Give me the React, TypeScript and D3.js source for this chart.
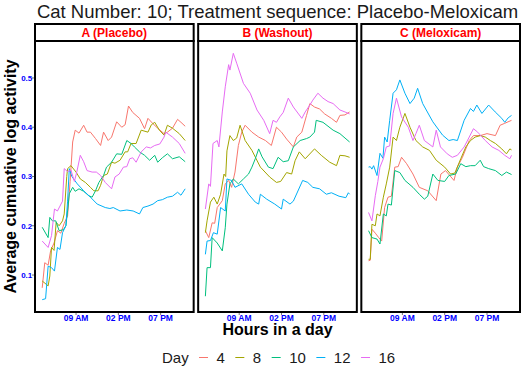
import React from "react";
import * as d3 from "d3";

type Pt = [number, number];

const titleText = "Cat Number: 10; Treatment sequence: Placebo-Meloxicam";
const panelTitles = ["A (Placebo)", "B (Washout)", "C (Meloxicam)"];
const days = ["4", "8", "10", "12", "16"];
const dayColors = ["#F8766D", "#A3A500", "#00BF7D", "#00B0F6", "#E76BF3"];
const yTicks = [0.1, 0.2, 0.3, 0.4, 0.5];
const xTicks = [9, 14, 19];
const xTickLabels = ["09 AM", "02 PM", "07 PM"];

// panel A (placebo) — [hour of day, value]
const aDay4: Pt[] = [[5.0,.074],[5.3,.125],[5.7,.12],[6.0,.15],[6.4,.165],[6.8,.19],[7.2,.185],[7.6,.205],[8.0,.22],[8.3,.29],[8.6,.37],[8.9,.394],[9.35,.388],[9.9,.404],[10.3,.39],[10.7,.39],[11.3,.377],[11.9,.363],[12.25,.39],[12.8,.373],[13.2,.38],[13.8,.411],[14.4,.40],[14.8,.405],[15.2,.443],[15.7,.43],[16.5,.418],[17.1,.397],[17.5,.418],[18.1,.407],[18.65,.398],[19.4,.387],[19.8,.39],[20.4,.398],[21.0,.416],[21.4,.41],[21.9,.402]];
const aDay8: Pt[] = [[5.0,.088],[5.7,.078],[5.9,.098],[6.1,.156],[6.4,.15],[6.65,.207],[7.0,.2],[7.4,.21],[7.6,.224],[7.9,.30],[8.0,.316],[8.4,.322],[9.0,.309],[9.5,.295],[10.1,.288],[10.7,.278],[11.1,.271],[11.6,.271],[11.9,.282],[12.25,.302],[12.7,.305],[13.2,.329],[13.6,.327],[14.2,.333],[14.8,.35],[15.1,.35],[15.5,.367],[16.1,.367],[16.7,.394],[17.5,.39],[17.9,.405],[18.3,.41],[18.85,.394],[19.4,.384],[19.8,.404],[20.4,.398],[21.2,.387],[21.9,.373]];
const aDay10: Pt[] = [[5.0,.197],[5.7,.176],[5.9,.217],[6.2,.21],[6.6,.21],[7.0,.19],[7.5,.192],[7.8,.2],[8.0,.23],[8.2,.265],[8.6,.278],[8.9,.27],[9.35,.275],[9.9,.27],[10.5,.261],[10.9,.258],[11.3,.271],[11.7,.288],[12.25,.302],[12.6,.319],[13.2,.329],[13.8,.346],[14.4,.345],[15.0,.373],[15.5,.367],[15.9,.36],[16.5,.35],[17.1,.343],[17.7,.333],[18.3,.343],[18.65,.329],[19.2,.338],[19.8,.346],[20.4,.336],[21.2,.34],[21.9,.33]];
const aDay12: Pt[] = [[5.0,.05],[5.4,.052],[5.7,.118],[6.1,.115],[6.45,.108],[6.8,.156],[7.1,.152],[7.4,.186],[7.8,.2],[8.0,.25],[8.2,.316],[8.5,.3],[9.15,.285],[9.9,.271],[10.7,.258],[11.5,.244],[12.45,.237],[13.0,.235],[13.4,.237],[14.2,.23],[15.0,.232],[15.75,.23],[16.5,.224],[16.9,.237],[17.5,.24],[18.1,.244],[18.65,.251],[19.2,.253],[19.8,.258],[20.4,.26],[21.0,.268],[21.4,.262],[21.9,.275]];
const aDay16: Pt[] = [[5.0,.169],[5.7,.156],[6.1,.18],[6.45,.234],[6.8,.23],[7.1,.24],[7.4,.25],[7.6,.316],[8.0,.31],[8.4,.313],[8.8,.29],[9.1,.31],[9.5,.343],[9.9,.33],[10.3,.312],[10.9,.309],[11.4,.309],[11.9,.302],[12.45,.288],[13.2,.275],[13.6,.299],[14.1,.305],[14.6,.319],[15.0,.32],[15.35,.336],[15.7,.338],[16.1,.329],[16.7,.35],[17.3,.36],[17.8,.358],[18.3,.363],[18.9,.366],[19.4,.38],[19.6,.39],[20.4,.38],[21.2,.367],[21.9,.347]];

// panel B (washout)
const bDay4: Pt[] = [[5.0,.19],[5.4,.176],[5.8,.206],[6.1,.205],[6.4,.237],[7.0,.251],[7.35,.285],[7.75,.292],[8.1,.278],[8.5,.309],[8.9,.363],[9.3,.39],[9.7,.404],[10.5,.39],[11.3,.38],[12.1,.373],[12.8,.363],[13.4,.40],[14.0,.39],[14.6,.376],[15.4,.36],[15.8,.38],[16.4,.39],[16.96,.424],[17.35,.448],[17.9,.441],[18.5,.437],[19.1,.427],[19.9,.418],[20.5,.41],[20.9,.424],[21.5,.425],[22.05,.431]];
const bDay8: Pt[] = [[5.0,.186],[5.2,.21],[5.6,.248],[6.0,.258],[6.4,.244],[6.8,.264],[7.2,.305],[7.4,.30],[7.55,.352],[7.9,.383],[8.3,.373],[8.7,.378],[9.1,.404],[9.7,.373],[10.5,.353],[11.5,.319],[12.6,.299],[13.4,.288],[13.9,.29],[14.6,.308],[15.2,.305],[15.6,.332],[16.1,.35],[16.8,.336],[17.9,.356],[18.7,.343],[19.7,.329],[20.5,.322],[20.9,.343],[21.5,.342],[22.05,.339]];
const bDay10: Pt[] = [[5.0,.057],[5.2,.115],[5.6,.115],[5.8,.176],[6.4,.165],[7.0,.149],[7.35,.196],[7.55,.244],[7.9,.285],[8.3,.295],[8.9,.285],[9.5,.295],[10.1,.305],[10.5,.319],[10.9,.336],[11.3,.356],[11.7,.34],[12.45,.319],[13.0,.316],[13.6,.339],[14.2,.33],[14.8,.332],[15.4,.36],[16.2,.373],[16.96,.377],[17.35,.38],[17.9,.39],[18.1,.414],[18.9,.41],[20.1,.394],[20.9,.387],[22.05,.37]];
const bDay12: Pt[] = [[5.0,.142],[5.2,.169],[5.6,.17],[5.95,.186],[6.4,.183],[6.8,.237],[7.35,.23],[7.55,.295],[8.1,.292],[8.5,.278],[9.3,.285],[10.1,.264],[10.9,.248],[11.3,.244],[11.5,.264],[12.25,.254],[13.2,.244],[14.0,.234],[14.2,.254],[15.0,.244],[15.4,.25],[16.5,.292],[17.1,.288],[17.7,.278],[18.5,.275],[19.3,.264],[19.9,.267],[20.8,.26],[21.6,.257],[21.9,.267],[22.05,.264]];
const bDay16: Pt[] = [[5.0,.234],[5.4,.285],[5.6,.28],[5.9,.367],[6.4,.373],[6.6,.36],[7.0,.431],[7.35,.482],[7.75,.527],[7.9,.516],[8.3,.55],[8.7,.53],[9.5,.489],[10.3,.469],[11.1,.435],[11.9,.414],[12.6,.387],[13.0,.414],[13.4,.41],[13.8,.421],[14.2,.43],[14.8,.459],[15.4,.441],[16.4,.418],[16.8,.431],[17.35,.445],[17.7,.455],[18.3,.469],[18.9,.459],[19.5,.452],[20.1,.448],[20.9,.435],[21.5,.431],[22.05,.427]];

// panel C (meloxicam)
const cDay4: Pt[] = [[5.0,.129],[5.2,.13],[5.4,.193],[5.8,.185],[6.2,.176],[6.55,.169],[6.9,.237],[7.3,.258],[7.7,.26],[8.1,.319],[8.5,.32],[8.9,.339],[9.5,.326],[10.25,.305],[11.0,.278],[12.0,.271],[13.0,.251],[13.55,.305],[14.1,.312],[15.1,.292],[15.5,.319],[16.1,.339],[16.9,.373],[17.4,.383],[18.2,.383],[19.0,.387],[20.0,.383],[20.55,.404],[21.1,.408],[21.9,.414]];
const cDay8: Pt[] = [[5.0,.132],[5.2,.132],[5.4,.203],[5.8,.2],[6.0,.224],[6.35,.22],[6.75,.258],[7.1,.285],[7.5,.319],[7.9,.38],[8.3,.373],[8.7,.40],[9.3,.428],[9.9,.40],[10.6,.373],[11.4,.36],[12.2,.353],[13.0,.333],[14.0,.319],[14.7,.305],[15.2,.307],[15.9,.336],[16.5,.36],[17.05,.373],[17.6,.38],[18.2,.383],[18.8,.38],[19.4,.373],[20.0,.367],[20.75,.356],[21.3,.346],[21.7,.356],[21.9,.354]];
const cDay10: Pt[] = [[5.0,.19],[5.4,.176],[6.0,.173],[6.35,.163],[6.75,.224],[7.1,.22],[7.3,.244],[7.7,.242],[8.1,.312],[8.7,.308],[9.3,.292],[10.25,.278],[11.0,.264],[11.6,.254],[12.0,.26],[12.6,.305],[13.2,.292],[14.0,.29],[14.5,.302],[15.3,.305],[15.9,.326],[16.5,.32],[17.05,.322],[17.6,.322],[18.2,.333],[18.6,.32],[19.2,.316],[20.0,.312],[20.75,.302],[21.3,.309],[21.9,.304]];
const cDay12: Pt[] = [[5.0,.319],[5.2,.32],[5.4,.315],[5.6,.322],[6.0,.302],[6.35,.347],[6.7,.337],[6.9,.38],[7.2,.37],[7.5,.414],[7.9,.469],[8.3,.476],[8.7,.496],[9.3,.469],[9.9,.448],[10.4,.459],[10.8,.479],[11.4,.448],[12.6,.411],[13.75,.384],[14.5,.373],[15.0,.375],[15.5,.373],[16.3,.414],[17.05,.438],[17.4,.432],[17.8,.445],[18.4,.428],[19.2,.445],[19.97,.431],[20.75,.418],[21.1,.41],[21.5,.419],[21.9,.424]];
const cDay16: Pt[] = [[5.0,.227],[5.4,.21],[5.8,.261],[6.1,.29],[6.35,.319],[6.75,.336],[7.1,.36],[7.5,.362],[7.9,.428],[8.3,.459],[8.9,.421],[9.7,.40],[10.25,.373],[10.6,.387],[11.0,.404],[11.6,.373],[12.6,.36],[13.0,.394],[13.5,.36],[14.3,.346],[14.9,.339],[15.5,.343],[16.3,.36],[16.9,.38],[17.4,.397],[17.9,.39],[18.8,.373],[19.6,.36],[20.4,.353],[21.1,.343],[21.7,.336],[21.9,.343]];

const panelSeries: Pt[][][] = [
  [aDay4, aDay8, aDay10, aDay12, aDay16],
  [bDay4, bDay8, bDay10, bDay12, bDay16],
  [cDay4, cDay8, cDay10, cDay12, cDay16],
];

const FONT = "'Liberation Sans', Arial, Helvetica, sans-serif";

export default function App() {
  const width = 526;
  const height = 372;
  const left = 35, right = 520, gap = 4.5;
  const stripTop = 24, stripBottom = 41, panelBottom = 312;
  const pw = (right - left - 2 * gap) / 3;

  const allPts = panelSeries.flat(2);
  const [xMin, xMax] = d3.extent(allPts, d => d[0]) as [number, number];
  const [yMin, yMax] = d3.extent(allPts, d => d[1]) as [number, number];
  const xPad = (xMax - xMin) * 0.05;
  const yPad = (yMax - yMin) * 0.05;

  const y = d3.scaleLinear()
    .domain([yMin - yPad, yMax + yPad])
    .range([panelBottom, stripBottom]);

  const line = d3.line<Pt>().x(d => d[0]).y(d => d[1]);

  // legend positions
  const digitW = 15 * 0.556;
  let lx = 199;
  const legendItems = days.map((d, i) => {
    const keyX = lx;
    const textX = keyX + 17.5;
    lx = textX + d.length * digitW + 10.5;
    return { d, keyX, textX, color: dayColors[i] };
  });

  return (
    <svg width={width} height={height}
      style={{ position: "fixed", left: 0, top: 0, background: "#fff", fontFamily: FONT }}>
      <rect x={0} y={0} width={width} height={height} fill="#fff" />
      <text x={(left + right) / 2} y={17.5} textAnchor="middle" fontSize={18.5} fill="#1a1a1a">
        {titleText}
      </text>

      {panelSeries.map((series, pi) => {
        const px = left + pi * (pw + gap);
        const x = d3.scaleLinear()
          .domain([xMin - xPad, xMax + xPad])
          .range([px, px + pw]);
        const path = line.x(d => x(d[0])).y(d => y(d[1]));
        return (
          <g key={pi}>
            <rect x={px} y={stripTop} width={pw} height={stripBottom - stripTop}
              fill="#fff" stroke="#000" strokeWidth={2} />
            <text x={px + pw / 2} y={37.2} textAnchor="middle" fontSize={12}
              fontWeight="bold" fill="#ff0000">{panelTitles[pi]}</text>
            <g>
              {series.map((s, si) => (
                <path key={si} d={path(s) || ""} fill="none"
                  stroke={dayColors[si]} strokeWidth={1} />
              ))}
            </g>
            <rect x={px} y={stripBottom} width={pw} height={panelBottom - stripBottom}
              fill="none" stroke="#000" strokeWidth={2} />
            {xTicks.map((t, ti) => (
              <g key={t}>
                <line x1={x(t)} x2={x(t)} y1={panelBottom + 1} y2={panelBottom + 3}
                  stroke="#555" strokeWidth={0.8} />
                <text x={x(t)} y={320.5} textAnchor="middle" fontSize={8.5}
                  fontWeight="bold" fill="#0000ff">{xTickLabels[ti]}</text>
              </g>
            ))}
          </g>
        );
      })}

      {yTicks.map(t => (
        <g key={t}>
          <line x1={left - 1} x2={left - 3} y1={y(t)} y2={y(t)} stroke="#555" strokeWidth={0.8} />
          <text x={32.3} y={y(t) + 2.9} textAnchor="end" fontSize={8}
            fontWeight="bold" fill="#0000ff">{t.toFixed(1)}</text>
        </g>
      ))}

      <text x={(left + right) / 2} y={335} textAnchor="middle" fontSize={16}
        fontWeight="bold" fill="#000">Hours in a day</text>
      <text transform={`translate(16,${(stripBottom + panelBottom) / 2}) rotate(-90)`}
        textAnchor="middle" fontSize={16} fontWeight="bold" fill="#000">
        Average cumuative log activity
      </text>

      <text x={162} y={363} fontSize={15} fill="#1a1a1a">Day</text>
      {legendItems.map(it => (
        <g key={it.d}>
          <line x1={it.keyX} x2={it.keyX + 9} y1={357.5} y2={357.5}
            stroke={it.color} strokeWidth={1} />
          <text x={it.textX} y={363} fontSize={15} fill="#1a1a1a">{it.d}</text>
        </g>
      ))}
    </svg>
  );
}
